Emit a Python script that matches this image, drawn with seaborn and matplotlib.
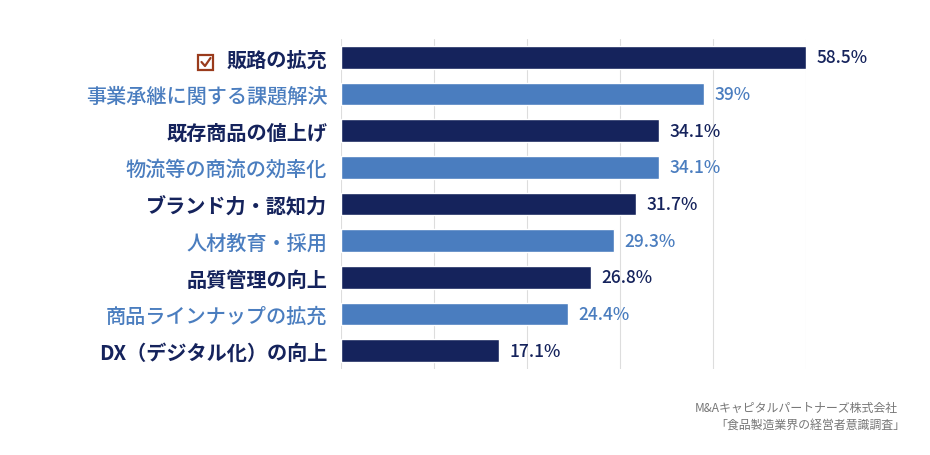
"""Food manufacturing management survey: priority issues bar chart."""

import numpy as np
import pandas as pd
import matplotlib
matplotlib.use("Agg")
import matplotlib.pyplot as plt
from matplotlib.patches import Rectangle
from matplotlib.lines import Line2D
import seaborn as sns

FONT = "Noto Sans CJK JP"
DARK = "#15235c"
LIGHT = "#4a7dbf"

categories = [
    "販路の拡充", "事業承継に関する課題解決", "既存商品の値上げ", "物流等の商流の効率化",
    "ブランド力・認知力", "人材教育・採用", "品質管理の向上", "商品ラインナップの拡充",
    "DX（デジタル化）の向上",
]
# bar lengths as drawn in the source graphic (not strictly proportional to labels)
bar_lengths = [58.5, 45.7, 40.0, 40.0, 37.1, 34.3, 31.5, 28.6, 19.9]
value_labels = ["58.5%", "39%", "34.1%", "34.1%", "31.7%", "29.3%", "26.8%", "24.4%", "17.1%"]
colors = [DARK if i % 2 == 0 else LIGHT for i in range(len(categories))]

df = pd.DataFrame({"category": categories, "value": bar_lengths})

sns.set_style("white")
plt.rcParams["font.family"] = FONT

fig = plt.figure(figsize=(9.3, 4.56), dpi=100)
ax = fig.add_axes([0.3667, 0.1886, 0.5, 0.7237])

sns.barplot(data=df, x="value", y="category", hue="category", palette=colors,
            legend=False, width=0.62, ax=ax, saturation=1)

ax.set_xlim(0, 58.5)
ax.set_xticks(np.linspace(0, 58.5, 6))
ax.grid(axis="x", color="#dddddd", linewidth=0.8)
ax.set_axisbelow(True)
ax.tick_params(axis="x", length=0, labelbottom=False)
ax.tick_params(axis="y", length=0, pad=10)
ax.set_xlabel("")
ax.set_ylabel("")
for s in ax.spines.values():
    s.set_visible(False)

for i, (lbl, c) in enumerate(zip(ax.get_yticklabels(), colors)):
    lbl.set_color(c)
    lbl.set_fontsize(14.5)
    lbl.set_fontweight("bold" if i % 2 == 0 else "medium")

for i, (v, t, c) in enumerate(zip(bar_lengths, value_labels, colors)):
    ax.text(v + 1.3, i, t, va="center", ha="left", color=c, fontsize=12.5,
            fontweight="medium", clip_on=False)

# checkbox next to the first label
box_c = "#9a3b1c"
fig.patches.append(Rectangle((198 / 930, 1 - 71 / 456), 15 / 930, 15 / 456,
                             transform=fig.transFigure, fill=False,
                             edgecolor=box_c, linewidth=1.6))
fig.lines.append(Line2D([201.5 / 930, 205 / 930, 210.5 / 930],
                        [1 - 63 / 456, 1 - 67 / 456, 1 - 59 / 456],
                        transform=fig.transFigure, color=box_c, linewidth=1.6))

fig.text(898 / 930, 1 - 408 / 456, "M&Aキャピタルパートナーズ株式会社",
         ha="right", va="center", fontsize=8.6, color="#777777")
fig.text(905 / 930, 1 - 425 / 456, "「食品製造業界の経営者意識調査」",
         ha="right", va="center", fontsize=8.6, color="#777777")

fig.savefig("out.png", dpi=100)
